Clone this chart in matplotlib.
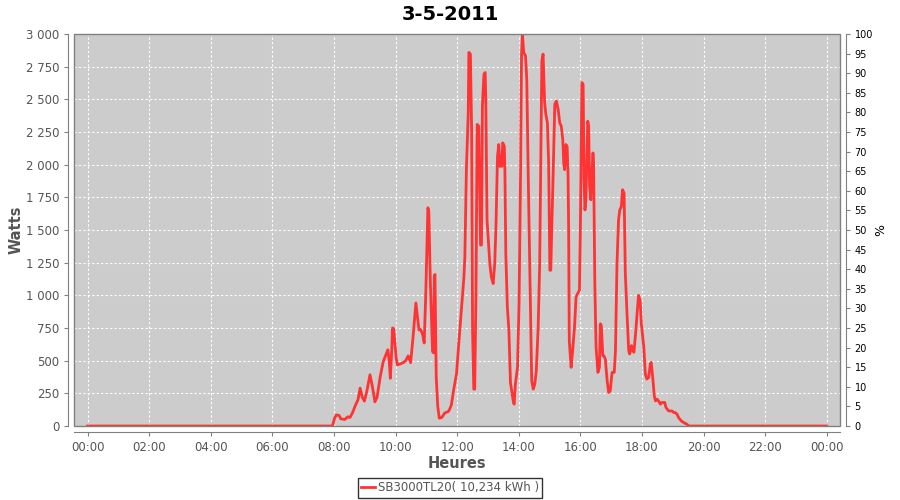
import matplotlib.pyplot as plt
from matplotlib.patches import Rectangle
from matplotlib.ticker import FuncFormatter

# heures décimales et puissance en watts
heures = [0.0, 7.95, 8.02, 8.08, 8.17, 8.22, 8.35, 8.45, 8.52, 8.6, 8.7, 8.78, 8.85, 8.92,
          8.99, 9.07, 9.17, 9.25, 9.33, 9.4, 9.5, 9.6, 9.68, 9.75, 9.8, 9.83, 9.88, 9.9,
          9.94, 10.02, 10.06, 10.15, 10.25, 10.33, 10.41, 10.49, 10.57, 10.66, 10.72, 10.76,
          10.81, 10.88, 10.93, 10.98, 11.05, 11.08, 11.13, 11.2, 11.23, 11.26, 11.28, 11.32,
          11.37, 11.42, 11.5, 11.6, 11.71, 11.76, 11.81, 11.89, 11.98, 12.06, 12.17, 12.22,
          12.25, 12.3, 12.36, 12.38, 12.43, 12.47, 12.5, 12.54, 12.57, 12.61, 12.65, 12.7,
          12.76, 12.79, 12.82, 12.87, 12.91, 12.93, 12.97, 13.06, 13.11, 13.17, 13.22, 13.26,
          13.31, 13.35, 13.39, 13.42, 13.45, 13.48, 13.53, 13.55, 13.58, 13.63, 13.68, 13.73,
          13.82, 13.85, 13.89, 13.96, 14.01, 14.06, 14.09, 14.12, 14.16, 14.22, 14.26, 14.31,
          14.36, 14.42, 14.47, 14.52, 14.57, 14.63, 14.68, 14.72, 14.75, 14.79, 14.84, 14.88,
          14.93, 14.97, 15.01, 15.04, 15.07, 15.12, 15.17, 15.22, 15.28, 15.33, 15.38, 15.43,
          15.46, 15.49, 15.53, 15.57, 15.6, 15.62, 15.64, 15.7, 15.75, 15.81, 15.86, 15.91,
          15.97, 16.0, 16.05, 16.09, 16.12, 16.15, 16.18, 16.24, 16.27, 16.3, 16.34, 16.38,
          16.41, 16.43, 16.47, 16.51, 16.57, 16.62, 16.65, 16.68, 16.73, 16.76, 16.81, 16.87,
          16.92, 16.97, 17.03, 17.1, 17.14, 17.19, 17.24, 17.28, 17.33, 17.37, 17.42, 17.46,
          17.52, 17.57, 17.6, 17.66, 17.7, 17.74, 17.81, 17.85, 17.89, 17.94, 17.98, 18.06,
          18.11, 18.16, 18.22, 18.27, 18.3, 18.35, 18.4, 18.44, 18.49, 18.54, 18.6, 18.65,
          18.74, 18.78, 18.87, 18.98, 19.03, 19.08, 19.14, 19.19, 19.28, 19.36, 19.46, 19.52,
          24.0]
watts = [0, 0, 60, 85, 80, 55, 50, 70, 65, 100, 160, 200, 290, 220,
         190, 270, 392, 300, 185, 220, 375, 493, 540, 583, 480, 365, 600, 750,
         745, 520, 468, 475, 485, 500, 537, 485, 685, 941, 820, 735,
         740, 700, 635, 1000, 1670, 1640, 1100, 570, 560, 1146, 1160, 380,
         150, 60, 65, 100, 110, 130, 160, 280, 400, 654, 987, 1141,
         1295, 1962, 2397, 2859, 2846, 2269, 731, 282, 282, 987, 2308, 2295,
         1385, 1385, 2449, 2692, 2705, 2500, 1577, 1244, 1141, 1090, 1244, 1526,
         2064, 2154, 1987, 2064, 1987, 2167, 2141, 1962, 1320, 910, 731, 333,
         192, 167, 320, 449, 936, 1962, 2833, 3000, 2859, 2833, 2654, 1885,
         1192, 346, 282, 320, 423, 756, 1244, 2141, 2795, 2846, 2474, 2385,
         2320, 2013, 1192, 1192, 1500, 1962, 2462, 2487, 2423, 2320, 2295, 2192,
         2013, 1962, 2154, 2141, 1936, 1500, 654, 449, 577, 756, 987, 1013,
         1038, 1500, 2628, 2615, 1885, 1654, 1731, 2333, 2295, 1833, 1731, 1962,
         2090, 2013, 1090, 603, 410, 449, 782, 770, 538, 538, 513, 346,
         256, 269, 410, 410, 577, 1244, 1577, 1654, 1679, 1808, 1782, 1167,
         833, 577, 551, 615, 577, 564, 756, 885, 1000, 962, 782, 603,
         397, 359, 372, 474, 487, 372, 231, 192, 205, 192, 167, 180,
         180, 141, 115, 115, 103, 103, 90, 64, 38, 26, 13, 0,
         0]

x_ticks = list(range(0, 25, 2))
x_labels = ["%02d:00" % (h % 24) for h in x_ticks]
titre = "3-5-2011"
legende = "SB3000TL20( 10,234 kWh )"

GRIS = "#555555"

fig = plt.figure(figsize=(9, 5), dpi=100)
ax = fig.add_axes([74 / 900, 74 / 500, 766 / 900, 392 / 500])
ax.set_facecolor("#cccccc")

ax.plot(heures, watts, color="#ff3333", lw=2, label=legende, zorder=3)

ax.set_xlim(-0.44, 24.43)
ax.set_ylim(0, 3000)
ax.set_yticks(range(0, 3001, 250))
ax.yaxis.set_major_formatter(FuncFormatter(lambda v, p: "{:,}".format(int(v)).replace(",", " ")))
ax.set_xticks(x_ticks)
ax.set_xticklabels(x_labels)

ax.grid(True, color="white", linestyle=(0, (2, 2)), linewidth=0.8)
ax.set_axisbelow(True)

for s in ["top", "right"]:
    ax.spines[s].set_visible(False)
for s in ["left", "bottom"]:
    ax.spines[s].set_position(("outward", 4))
    ax.spines[s].set_color("#808080")
ax.add_patch(Rectangle((0, 0), 1, 1, transform=ax.transAxes, fill=False,
                       edgecolor="#808080", lw=1, clip_on=False, zorder=4))

ax.tick_params(axis="both", colors="#808080", labelcolor=GRIS, labelsize=8.5, length=3)
ax.set_xlabel("Heures", fontsize=10.5, fontweight="bold", color=GRIS)
ax.set_ylabel("Watts", fontsize=10.5, fontweight="bold", color=GRIS)
ax.xaxis.set_label_coords(0.5, -0.076)
ax.yaxis.set_label_coords(-0.066, 0.5)

ax2 = ax.twinx()
ax2.set_ylim(0, 100)
ax2.set_yticks(range(0, 101, 5))
for s in ["top", "left", "bottom"]:
    ax2.spines[s].set_visible(False)
ax2.spines["right"].set_position(("outward", 4))
ax2.spines["right"].set_color("#808080")
ax2.tick_params(axis="y", colors="#808080", labelcolor="black", labelsize=7, length=3)
ax2.set_ylabel("%", fontsize=9, color="black")
ax2.yaxis.set_label_coords(1.045, 0.5)

fig.suptitle(titre, fontsize=14, fontweight="bold", y=0.972, va="center")

leg = fig.legend(loc="center", bbox_to_anchor=(0.5, 0.024), fontsize=8.5, frameon=True,
                 fancybox=False, handlelength=1.2, handletextpad=0.2,
                 borderpad=0.3, borderaxespad=0, labelcolor=GRIS)
leg.get_frame().set_edgecolor("black")
leg.get_frame().set_linewidth(1)

fig.savefig("out.png", dpi=100)
